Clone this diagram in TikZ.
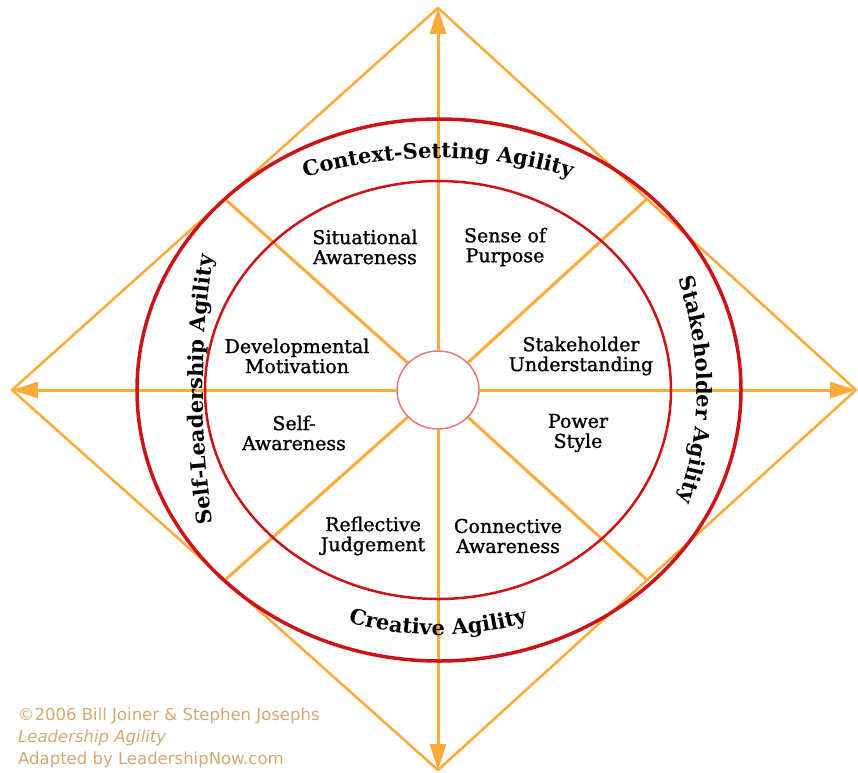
\documentclass[tikz,border=0pt]{standalone}
\usepackage{fontspec}
\usetikzlibrary{arrows.meta, shapes.geometric, decorations.text}
\newfontfamily\facetfont{DejaVu Serif}[FakeBold=1.2]
\newfontfamily\ringface{DejaVu Serif}
\newfontfamily\creditfont{DejaVu Sans}
\newcommand\ringfont{\ringface\bfseries\fontsize{21}{24}\selectfont}
\definecolor{agileorange}{RGB}{252,170,56}
\definecolor{agilered}{RGB}{204,20,24}
\definecolor{hubpink}{RGB}{226,122,122}
\definecolor{creditbrown}{RGB}{212,168,118}

\begin{document}
\begin{tikzpicture}[x=1pt, y=1pt,
    spoke/.style={agileorange, line width=3pt},
    arrowed/.style={-{Triangle[length=26pt, width=16pt]}},
    rim/.style={agileorange, line width=2.5pt, line join=round},
    facet/.style={align=center, font=\facetfont\fontsize{19}{20}\selectfont},
    ringlabel/.style={decorate, decoration={text along path, text align=center, text={|\ringfont|#1}}},
    credit/.style={anchor=base west, inner sep=0pt, text=creditbrown, font=\creditfont\fontsize{16.5}{20}\selectfont}]
    \useasboundingbox (-438,-382) rectangle (420,390);

    % Diamond
    \coordinate (tipN) at (0,382);
    \coordinate (tipS) at (0,-380);
    \coordinate (tipW) at (-426,0);
    \coordinate (tipE) at (418,0);
    \coordinate (edgeNE) at (209,191);
    \coordinate (edgeNW) at (-213,191);
    \coordinate (edgeSW) at (-213,-190);
    \coordinate (edgeSE) at (209,-190);
    \draw[rim] (tipN) -- (tipE) -- (tipS) -- (tipW) -- cycle;

    % Hub and spokes
    \node[ellipse, draw=hubpink, line width=1.5pt, fill=white, inner sep=0pt,
          minimum width=82pt, minimum height=78pt] (hub) at (0,0) {};
    \draw[spoke, arrowed] (hub) -- (tipN);
    \draw[spoke, arrowed] (hub) -- (tipS);
    \draw[spoke, arrowed] (hub) -- (tipW);
    \draw[spoke, arrowed] (hub) -- (tipE);
    \draw[spoke] (hub) -- (edgeNE);
    \draw[spoke] (hub) -- (edgeNW);
    \draw[spoke] (hub) -- (edgeSW);
    \draw[spoke] (hub) -- (edgeSE);

    % Rings
    \draw[agilered, line width=3.5pt] (1,0) ellipse [x radius=302, y radius=271];
    \draw[agilered, line width=2.5pt] (0,0) ellipse [x radius=233, y radius=209];

    % Agilities
    \path[ringlabel={Context-Setting Agility}] ([shift={(0,-232)}]120:464) arc[start angle=120, end angle=60, radius=464];
    \path[ringlabel={Creative Agility}] ([shift={(0,73)}]240:318) arc[start angle=240, end angle=300, radius=318];
    \path[ringlabel={Self-Leadership Agility}] ([shift={(665,0)}]192:900) arc[start angle=192, end angle=168, radius=900];
    \path[ringlabel={Stakeholder Agility}] ([shift={(-81,0)}]35:340) arc[start angle=35, end angle=-35, radius=340];

    % Capacities
    \node[facet] (situational) at (-73,143) {Situational\\Awareness};
    \node[facet] (purpose) at (67,143) {Sense of\\Purpose};
    \node[facet] (developmental) at (-141,34) {Developmental\\Motivation};
    \node[facet] (stakeholder) at (143,34) {Stakeholder\\Understanding};
    \node[facet] (selfaware) at (-144,-43) {Self-\\Awareness};
    \node[facet] (power) at (140,-43) {Power\\Style};
    \node[facet] (reflective) at (-65,-146) {Reflective\\Judgement};
    \node[facet] (connective) at (70,-146) {Connective\\Awareness};

    % Credits
    \node[credit] (credit1) at (-420,-330) {©2006 Bill Joiner \& Stephen Josephs};
    \node[credit, font=\creditfont\itshape\fontsize{16.5}{20}\selectfont] (credit2) at (-420,-352) {Leadership Agility};
    \node[credit] (credit3) at (-420,-374) {Adapted by LeadershipNow.com};
\end{tikzpicture}
\end{document}
